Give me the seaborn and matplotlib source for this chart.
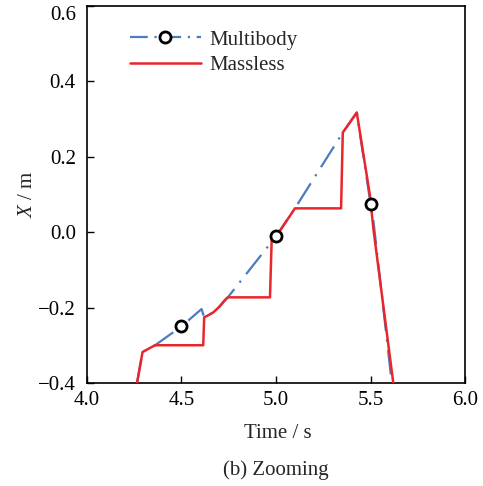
import matplotlib
matplotlib.use("Agg")
import matplotlib.pyplot as plt
import seaborn as sns
import pandas as pd
from matplotlib.lines import Line2D
from matplotlib.legend_handler import HandlerLine2D

# Data
mb_time = [4.265, 4.294, 4.36, 4.5, 4.606, 4.62, 4.64, 4.668, 4.70, 4.745, 5.0, 5.10, 5.353, 5.427, 5.5, 5.515, 5.612]
mb_x    = [-0.40, -0.318, -0.30, -0.25, -0.204, -0.226, -0.221, -0.213, -0.198, -0.173, -0.011, 0.063, 0.264, 0.317, 0.074, 0.03, -0.40]
mb_marker_idx = [3, 10, 14]

ml_time = [4.265, 4.294, 4.36, 4.615, 4.62, 4.64, 4.668, 4.70, 4.73, 4.745, 4.968, 4.977, 5.02, 5.10, 5.344, 5.353, 5.427, 5.497, 5.515, 5.62]
ml_x    = [-0.40, -0.318, -0.30, -0.30, -0.226, -0.221, -0.213, -0.198, -0.180, -0.173, -0.173, -0.019, 0.003, 0.063, 0.063, 0.264, 0.317, 0.096, 0.008, -0.40]

x_ticks = [4.0, 4.5, 5.0, 5.5, 6.0]
y_ticks = [-0.4, -0.2, 0.0, 0.2, 0.4, 0.6]

sns.set_theme(style="white")
plt.rcParams["font.family"] = ["Liberation Serif", "DejaVu Serif"]
plt.rcParams["mathtext.fontset"] = "custom"
plt.rcParams["mathtext.it"] = "Liberation Serif:italic"
plt.rcParams["mathtext.rm"] = "Liberation Serif"

BLUE = "#4a7cc0"
RED = "#e8262c"
FS = 15

fig = plt.figure(figsize=(4.83, 4.86), dpi=100)
ax = fig.add_axes([0.180, 0.212, 0.783, 0.776])

mb = pd.DataFrame({"t": mb_time, "x": mb_x})
ml = pd.DataFrame({"t": ml_time, "x": ml_x})

dash = (0, (11, 3.8, 1.0, 3.8))
sns.lineplot(data=mb, x="t", y="x", sort=False, estimator=None, ax=ax,
             color=BLUE, lw=1.6, linestyle=dash, zorder=2)
sns.lineplot(data=ml, x="t", y="x", sort=False, estimator=None, ax=ax,
             color=RED, lw=1.8, zorder=3)
ax.plot(mb["t"], mb["x"], ls="none", marker="o", markevery=mb_marker_idx,
        ms=8, mfc="white", mec="black", mew=2.0, zorder=4)

ax.set_xlim(4.0, 6.0)
ax.set_ylim(-0.4, 0.6)
ax.set_xticks(x_ticks)
ax.set_xticklabels([f"{v:.1f}" for v in x_ticks])
ax.set_yticks(y_ticks)
ax.set_yticklabels([f"{v:.1f}".replace("-", "\u2212") for v in y_ticks])
ax.tick_params(direction="in", length=5, width=1.0, labelsize=FS, colors="black",
               left=True, bottom=True, top=False, right=False)
ax.tick_params(axis="x", pad=6)
ax.tick_params(axis="y", pad=8)
ax.get_yticklabels()[-1].set_va("top")
for s in ax.spines.values():
    s.set_color("black")
    s.set_linewidth(1.2)

ax.set_xlabel("Time / s", fontsize=FS, va="center")
ax.xaxis.set_label_coords(0.505, -0.133)
ax.set_ylabel("$X$ / m", fontsize=FS, va="center")
ax.yaxis.set_label_coords(-0.158, 0.5)

fig.text(0.571, 0.033, "(b) Zooming", ha="center", va="center", fontsize=FS)


class OffsetMarkerHandler(HandlerLine2D):
    def get_xdata(self, legend, xdescent, ydescent, width, height, fontsize):
        xd, xm = super().get_xdata(legend, xdescent, ydescent, width, height, fontsize)
        return xd, [-xdescent + 0.37 * width]


h1 = Line2D([], [], color=BLUE, lw=1.6, linestyle=(0, (8, 3, 1.0, 3)), marker="o", ms=8,
            mfc="white", mec="black", mew=2.0)
h2 = Line2D([], [], color=RED, lw=1.8)
ax.legend([h1, h2], ["Multibody", "Massless"], loc="upper left",
          bbox_to_anchor=(0.114, 0.936), frameon=False, fontsize=FS,
          handlelength=3.4, handletextpad=0.4, labelspacing=0.28, borderaxespad=0.0,
          borderpad=0.0, handler_map={h1: OffsetMarkerHandler()})

fig.savefig("out.png", dpi=100)
